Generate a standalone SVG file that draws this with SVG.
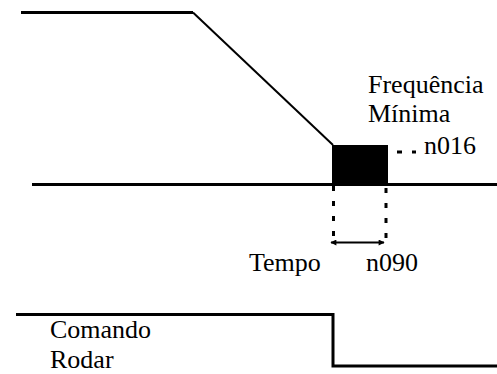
<svg xmlns="http://www.w3.org/2000/svg" width="497" height="374" viewBox="0 0 497 374">
<style>
text{font-family:"Liberation Serif","Times New Roman",serif;font-size:26px;fill:#000}
.ln{fill:none;stroke:#000;stroke-width:3}
.thin{fill:none;stroke:#000;stroke-width:2}
.dot{fill:none;stroke:#000;stroke-width:3;stroke-dasharray:5 10}
</style>
<defs>
<marker id="ah" viewBox="0 0 10 10" refX="9" refY="5" markerWidth="9" markerHeight="6" markerUnits="userSpaceOnUse" orient="auto-start-reverse">
<path d="M0,0 L10,5 L0,10 z" fill="#000"/>
</marker>
</defs>
<rect width="497" height="374" fill="#fff"/>
<g id="connectors">
<path class="ln" d="M21,12.5 H193"/>
<path class="thin" d="M193,12.5 L333,145"/>
<path class="ln" d="M32,184.5 H497"/>
<path class="dot" d="M333.5,186 V236"/>
<path class="dot" d="M386,188 V240"/>
<path class="dot" d="M397,152 H416"/>
<path class="thin" d="M331,242.5 H384" marker-start="url(#ah)" marker-end="url(#ah)"/>
<path class="ln" d="M16,314.5 H333 V366 H497"/>
</g>
<g id="min-freq-block">
<rect x="332" y="145" width="56" height="39" fill="#000"/>
</g>
<g id="label-freq">
<text x="368" y="93">Frequência</text>
<text x="368" y="122">Mínima</text>
<text x="424" y="154">n016</text>
</g>
<g id="label-tempo">
<text x="249" y="271">Tempo</text>
<text x="366" y="271">n090</text>
</g>
<g id="label-comando">
<text x="50" y="338">Comando</text>
<text x="50" y="368">Rodar</text>
</g>
</svg>
